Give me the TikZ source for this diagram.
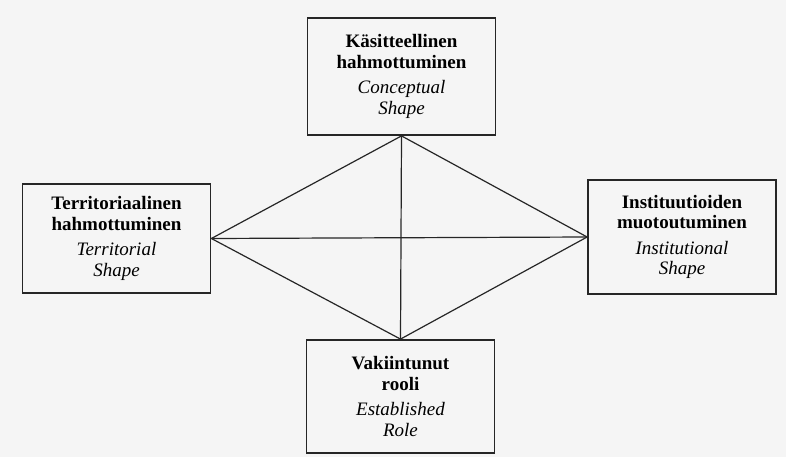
\documentclass[tikz,border=0pt]{standalone}
\usepackage{fontspec}
\setmainfont{Liberation Serif}
\usetikzlibrary{positioning}
\def\boxwidth{188pt}

\begin{document}
\begin{tikzpicture}[x=1pt, y=-1pt, draw=black!85]
            \tikzstyle{shapebox}=[draw, line width=1.8pt, minimum width=\boxwidth, align=center, inner sep=0pt, font=\fontsize{19}{20.5}\selectfont]
            \tikzstyle{link}=[line width=1.2pt]

            % Paper and picture size
            \fill[black!4] (0,0) rectangle (786,457);
            \useasboundingbox (0,0) rectangle (786,457);

            % Draw the four shapes
            \node[shapebox, minimum height=117pt] (C) at (401.5,76.5)
                {\textbf{Käsitteellinen}\\ \textbf{hahmottuminen}\\[5pt] \textit{Conceptual}\\ \textit{Shape}};
            \node[shapebox, minimum height=109pt] (T) at (116.5,238.5)
                {\textbf{Territoriaalinen}\\ \textbf{hahmottuminen}\\[5pt] \textit{Territorial}\\ \textit{Shape}};
            \node[shapebox, minimum height=114pt] (I) at (682,237)
                {\textbf{Instituutioiden}\\ \textbf{muotoutuminen}\\[5pt] \textit{Institutional}\\ \textit{Shape}};
            \node[shapebox, minimum height=113pt] (E) at (400.5,396.5)
                {\textbf{Vakiintunut}\\ \textbf{rooli}\\[5pt] \textit{Established}\\ \textit{Role}};

            % Connect every shape with every other shape
            \foreach \source / \dest in {C.south/T.east, C.south/I.west, C.south/E.north,
                                         E.north/T.east, E.north/I.west, T.east/I.west}
                \draw[link] (\source) -- (\dest);

\end{tikzpicture}
\end{document}
